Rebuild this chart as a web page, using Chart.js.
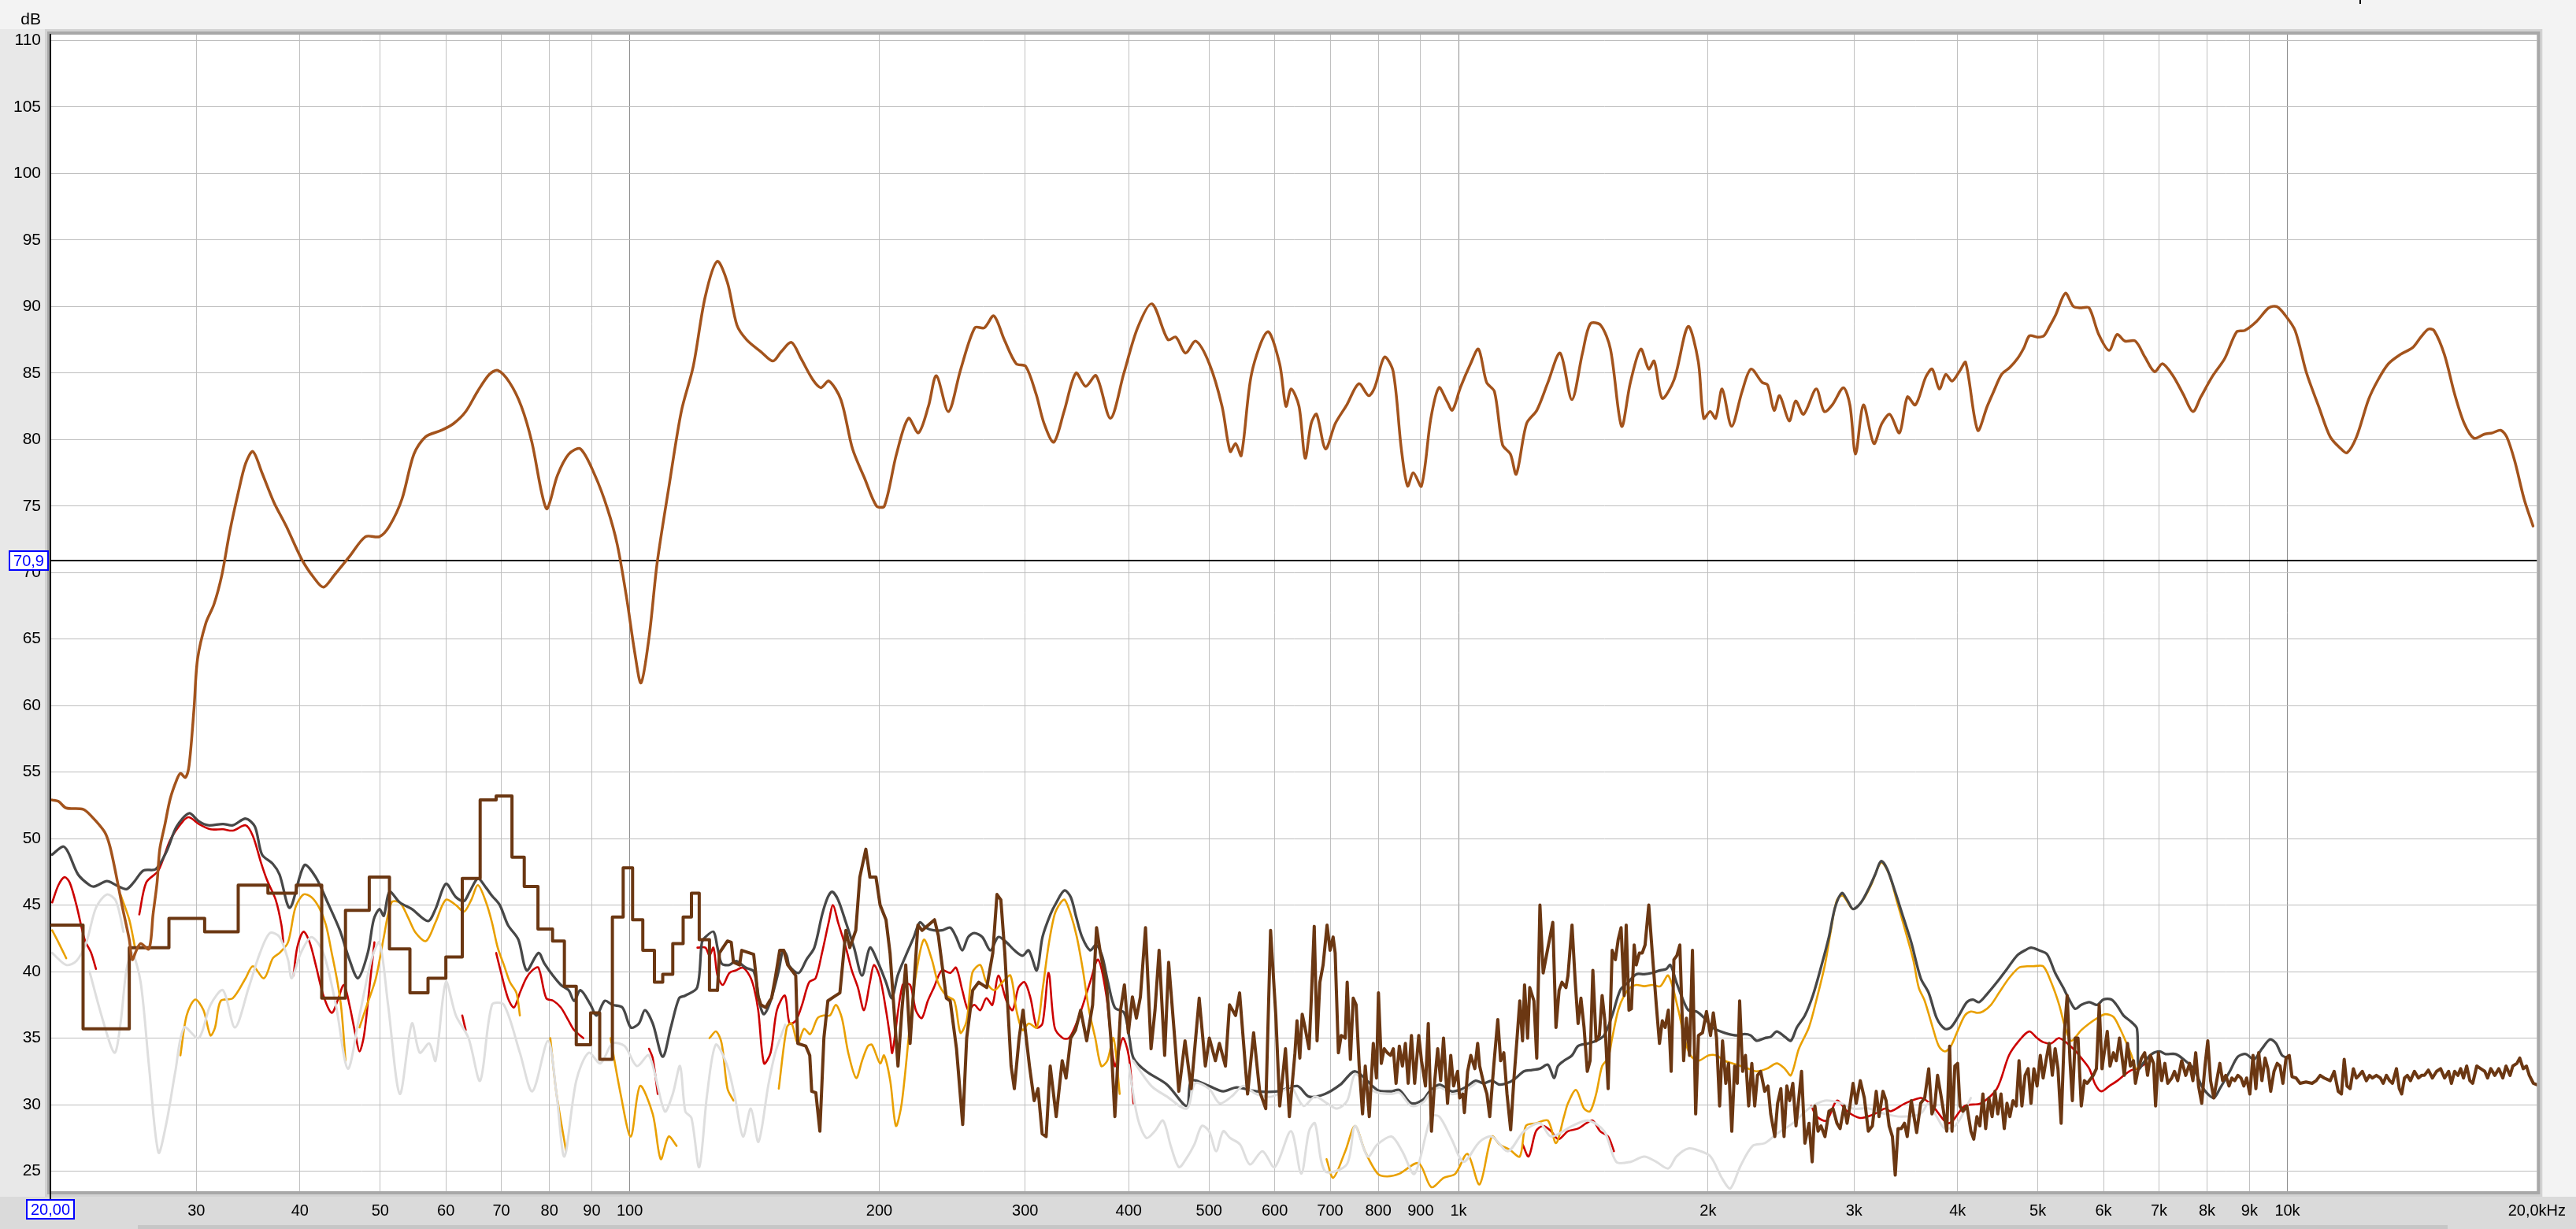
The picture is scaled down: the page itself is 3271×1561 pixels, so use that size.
<!DOCTYPE html>
<html lang="en">
<head>
<meta charset="UTF-8">
<title>Frequency response overlay</title>
<script src="https://cdnjs.cloudflare.com/ajax/libs/Chart.js/4.4.1/chart.umd.js"></script>
<style>
  html, body { margin: 0; padding: 0; background: #f3f3f3; }
  canvas { display: block; }
</style>
</head>
<body>
<canvas id="rta" width="3271" height="1561"></canvas>
<script>
// axis ticks
var xTickValues = [20, 30, 40, 50, 60, 70, 80, 90, 100, 200, 300, 400, 500, 600, 700, 800, 900,
                   1000, 2000, 3000, 4000, 5000, 6000, 7000, 8000, 9000, 10000, 20000];
var xTickLabels = ['', '30', '40', '50', '60', '70', '80', '90', '100', '200', '300', '400', '500', '600', '700', '800', '900',
                   '1k', '2k', '3k', '4k', '5k', '6k', '7k', '8k', '9k', '10k', '20,0kHz'];
var yTickValues = [25, 30, 35, 40, 45, 50, 55, 60, 65, 70, 75, 80, 85, 90, 95, 100, 105, 110];
var markerLevel = 70.9;

// [Hz, dB] - main response (top trace)
var mainTrace = [[20.1,52.9],[20.45,52.8],[20.9,52.3],[21.9,52.2],[22.4,51.7],[23.25,50.5],[23.6,49.4],[24.0,47.3],[24.4,45.0],[24.9,42.4],
  [25.1,40.9],[25.4,41.6],[25.7,42.1],[26.3,41.7],[26.6,44.3],[26.9,46.7],[27.1,49.2],[27.5,51.1],[27.9,53.0],[28.4,54.4],[28.7,54.9],
  [29.1,54.6],[29.4,55.5],[29.8,59.7],[30.1,63.5],[30.8,66.2],[31.5,67.6],[32.2,69.8],[32.9,73.0],[33.7,76.0],[34.4,78.2],[35.1,79.1],
  [36.0,77.5],[37.2,75.3],[38.5,73.5],[40.2,71.0],[41.6,69.6],[42.7,68.9],[44.0,69.8],[45.9,71.2],[48.0,72.7],[49.9,72.7],[51.3,73.5],
  [53.1,75.5],[54.9,78.9],[56.7,80.2],[59.3,80.7],[61.3,81.2],[63.4,82.1],[65.5,83.6],[67.7,84.9],[69.3,85.2],[71.6,84.3],[74.0,82.5],
  [76.2,79.8],[78.3,76.0],[79.5,74.8],[81.8,77.3],[84.4,78.9],[87.2,79.3],[90.8,77.3],[94.0,74.8],[96.6,72.1],[99.2,68.0],[101.4,64.0],
  [103.2,61.7],[105.6,65.3],[107.9,70.7],[111.6,76.6],[115.4,82.1],[119.3,85.5],[123.3,90.7],[127.5,93.4],[131.2,91.8],[134.7,88.6],
  [138.4,87.5],[144.0,86.6],[148.9,85.9],[152.3,86.6],[156.7,87.3],[160.9,86.1],[166.3,84.5],[170.1,83.9],[173.9,84.4],[179.8,83.0],
  [185.7,79.3],[192.0,77.1],[198.5,75.0],[202.9,75.0],[209.8,78.9],[216.9,81.6],[223.0,80.5],[229.3,82.5],[234.4,84.8],[242.4,82.1],
  [250.6,85.2],[260.8,88.4],[267.8,88.4],[275.0,89.3],[283.1,87.5],[292.6,85.7],[300.5,85.5],[309.3,83.4],[316.2,81.2],[324.8,79.8],
  [334.2,82.1],[345.4,85.0],[354.9,84.0],[365.3,84.8],[380.2,81.6],[394.7,85.0],[410.0,88.4],[426.6,90.2],[446.0,87.5],[456.0,87.7],
  [468.3,86.5],[481.9,87.4],[500.4,85.7],[518.4,82.5],[530.3,79.1],[538.3,79.7],[546.8,78.8],[562.9,85.0],[588.4,88.1],[608.3,85.7],
  [619.1,82.5],[628,83.8],[642,82.5],[653,78.6],[664,81.2],[674,81.9],[691,79.3],[710,81.2],[733,82.6],[758,84.2],[779,83.3],[792,83.9],
  [814,86.2],[834,85.1],[853,79.3],[868,76.5],[882,77.5],[902,76.5],[926,81.6],[947,83.9],[968,82.9],[983,82.2],[1005,83.9],[1034,85.7],
  [1057,86.8],[1081,84.3],[1105,83.6],[1130,79.6],[1155,78.9],[1174,77.4],[1208,81.2],[1243,82.2],[1282,84.3],[1326,86.5],[1370,83.0],
  [1411,86.5],[1442,88.7],[1484,88.6],[1525,86.8],[1573,81.0],[1612,84.3],[1659,86.8],[1696,85.3],[1722,85.9],[1761,83.1],[1820,84.5],
  [1892,88.5],[1946,85.9],[1976,81.6],[2012,82.1],[2043,81.6],[2080,83.8],[2135,81.0],[2198,83.6],[2253,85.3],[2324,84.3],[2360,84.1],
  [2403,82.2],[2440,83.3],[2506,81.4],[2551,82.9],[2608,81.9],[2701,83.8],[2762,82.1],[2824,82.6],[2913,83.9],[2966,82.6],[3013,78.9],
  [3080,82.6],[3170,79.7],[3241,81.2],[3314,81.9],[3404,80.5],[3480,83.2],[3558,82.6],[3662,84.7],[3728,85.3],[3803,83.8],[3871,84.9],
  [3940,84.4],[4028,85.2],[4091,85.8],[4230,80.7],[4344,82.5],[4421,83.6],[4521,84.9],[4622,85.4],[4726,86.1],[4810,86.9],[4885,87.8],
  [4995,87.7],[5084,87.8],[5164,88.5],[5256,89.4],[5398,91.0],[5519,90.0],[5643,89.9],[5765,89.9],[5921,87.9],[6094,86.7],[6230,87.9],
  [6369,87.4],[6556,87.4],[6732,86.2],[6915,85.1],[7068,85.7],[7277,84.8],[7489,83.4],[7691,82.1],[7863,83.2],[8129,84.8],[8404,86.1],
  [8686,88.1],[8884,88.2],[9185,88.9],[9496,89.9],[9708,90.0],[9925,89.4],[10217,88.2],[10547,85.0],[10908,82.5],[11264,80.2],
  [11606,79.3],[11803,79.0],[12118,80.2],[12528,83.0],[12868,84.5],[13241,85.7],[13690,86.4],[14157,86.9],[14490,87.7],[14798,88.3],
  [15029,88.2],[15467,86.4],[15918,83.4],[16349,81.2],[16793,80.1],[17284,80.4],[17672,80.5],[18088,80.7],[18394,80.2],[18804,78.4],
  [19308,75.5],[19788,73.5]];

// [Hz, dB] - noise floor, low range held in steps (value holds until next point)
var noiseSteps = [[20,43.5],[21.9,35.7],[24.9,41.8],[27.8,44.0],[30.7,43.0],[33.7,46.5],[36.6,45.9],[39.6,46.5],[42.5,38.0],[45.4,44.6],
  [48.5,47.1],[51.3,41.7],[54.3,38.4],[57.1,39.5],[60.0,41.1],[62.8,47.0],[66.0,52.9],[69.0,53.2],[72.1,48.6],[74.6,46.4],[77.5,43.2],
  [80.7,42.3],[83.4,38.9],[86.2,34.5],[89.7,36.9],[92.0,33.4],[95.3,44.1],[98.2,47.8],[100.8,43.9],[103.7,41.6],[107.1,39.2],[109.6,39.8],
  [112.7,42.1],[116.0,44.1],[118.7,45.9],[121.3,42.4],[124.8,38.6],[127.6,38.6]];

// [Hz, dB] - noise floor, rest of the range
var noiseTrace = [[127.6,38.6],[128.3,41.4],[131.2,42.3],[132.6,42.2],[133.4,40.7],[135.7,40.5],[136.5,41.6],[139.5,41.4],[141.1,41.3],
  [141.9,39.9],[142.7,38.2],[144.0,37.5],[145.9,37.3],[147.5,37.8],[148.3,38.0],[150.0,39.7],[151.7,41.6],[153.4,41.6],[155.1,40.5],
  [156.8,40.1],[158.6,39.7],[159.5,34.6],[163.1,34.4],[164.9,33.7],[165.8,31.0],[167.7,30.9],[169.6,28.0],[171.5,35.0],[173.4,37.8],
  [176.3,38.1],[179.3,38.4],[182.3,43.1],[184.3,41.8],[187.4,43.1],[189.5,47.1],[192.7,49.2],[194.9,47.1],[198.2,47.1],[200.5,45.0],
  [203.8,43.9],[206.1,41.4],[210.7,32.9],[213.0,37.1],[215.3,40.5],[217.9,34.6],[222.7,43.5],[225.3,43.1],[233.2,43.9],[235.7,42.7],
  [241.0,38.0],[243.6,37.8],[247.9,34.2],[252.2,28.5],[255.0,35.0],[259.3,38.6],[263.7,39.2],[269.6,38.8],[274.2,41.4],[277.4,45.8],
  [280.4,45.4],[283.5,41.4],[288.5,32.9],[291.1,31.2],[295.0,35.0],[298.2,37.1],[303.6,32.9],[307.6,30.3],[310.9,31.2],[314.5,27.8],
  [318.0,27.6],[321.6,32.9],[327.0,29.1],[332.5,33.3],[336.1,32.0],[340.5,35.0],[345.0,35.6],[350.0,37.1],[355.9,34.8],[361.8,37.5],
  [365.8,43.3],[369.7,41.4],[375.9,39.2],[380.6,35.0],[384.9,29.1],[391.0,37.1],[395.2,39.0],[399.6,35.4],[404.1,38.1],[408.6,36.5],
  [413.2,38.1],[419.1,43.3],[425.6,34.2],[430.3,37.1],[435.2,41.6],[442.0,33.7],[446.9,40.7],[454.5,35.0],[459.7,31.0],[467.7,34.8],
  [475.8,31.2],[486.5,38.0],[494.9,32.9],[500.4,35.0],[508.9,33.3],[514.6,34.6],[523.3,32.9],[529.2,37.5],[538.2,36.7],[544.3,38.4],
  [556.5,30.8],[565.9,35.4],[575.5,31.0],[585.3,29.7],[593.2,43.1],[601.9,36.7],[608.5,29.9],[618.3,34.2],[625.0,29.1],[634.8,33.9],
  [638.4,36.3],[643.4,33.5],[647.7,36.8],[652.8,35.8],[660.1,34.2],[663.8,37.5],[669.7,43.4],[675.0,34.8],[680.3,39.2],[686.4,40.5],
  [694.0,43.5],[699.8,41.6],[705.8,42.6],[709.8,41.4],[716.2,33.9],[721.8,35.2],[729.9,35.0],[733.9,39.2],[740.5,33.4],[746.3,38.0],
  [752.4,37.5],[758.8,32.9],[765.9,29.3],[771.7,32.9],[780.4,29.1],[789.1,34.6],[796.1,32.0],[800.5,38.4],[806.9,33.1],[813.3,34.2],
  [820.5,33.9],[827.9,33.7],[834.3,34.2],[840.6,31.6],[848.3,34.4],[855.6,32.9],[862.7,34.6],[869.4,31.6],[877.3,35.2],[885.2,31.6],
  [895.4,35.2],[902.2,33.3],[912.2,31.4],[919.4,36.1],[927.5,28.0],[936.0,31.8],[943.7,34.2],[951.5,31.8],[959.1,35.0],[969.9,30.1],
  [978.6,33.7],[986.3,31.4],[997.4,32.5],[1003.0,30.5],[1011.9,30.8],[1016.4,29.4],[1025.5,32.5],[1034.7,33.7],[1046.3,32.7],[1054.5,34.6],
  [1060.4,32.9],[1072.3,31.6],[1082.0,30.8],[1090.5,29.1],[1102.7,32.9],[1115.2,36.4],[1124.0,33.3],[1134.0,33.9],[1144.1,30.8],[1155.8,28.1],
  [1165.9,31.8],[1176.5,35.0],[1185.5,37.8],[1194.6,34.8],[1201.2,39.0],[1211.5,35.0],[1218.7,38.8],[1232.9,37.8],[1242.7,33.5],[1253.7,45.0],
  [1265.0,39.9],[1281.9,41.8],[1299.3,43.7],[1310.8,35.8],[1322.3,38.6],[1332.8,39.2],[1347.6,38.8],[1355.3,39.7],[1370.6,43.5],[1383.0,39.2],
  [1393.9,36.1],[1405.0,38.0],[1417.2,35.8],[1430.0,32.5],[1441.2,33.3],[1452.3,40.1],[1465.5,34.8],[1478.7,35.2],[1490.2,38.2],[1501.5,36.3],
  [1515.2,31.2],[1532.3,41.6],[1546.0,40.9],[1558.2,42.4],[1570.8,43.3],[1584.4,38.2],[1593.2,43.5],[1605.6,37.1],[1616.4,37.2],[1628.9,42.0],
  [1638.3,40.5],[1652.6,41.4],[1665.9,41.4],[1679.0,42.0],[1696.3,45.0],[1713.0,41.4],[1732.2,37.5],[1747.6,34.6],[1761.3,36.3],[1775.3,35.8],
  [1791.1,37.1],[1805.2,32.5],[1819.0,40.9],[1834.1,41.2],[1849.2,42.0],[1868.8,33.3],[1883.3,36.5],[1899.9,33.7],[1915.2,41.6],[1932.4,29.3],
  [1947.5,35.2],[1969.4,35.4],[1991.4,37.0],[2013.8,35.2],[2029.5,36.9],[2047.7,35.0],[2065.4,29.9],[2082.2,34.8],[2101.0,31.6],[2117.2,33.1],
  [2136.4,28.0],[2153.3,32.9],[2169.4,31.6],[2183.5,37.8],[2201.6,32.5],[2219.0,33.7],[2238.9,29.9],[2258.7,33.1],[2276.8,29.9],[2294.5,32.2],
  [2314.8,32.5],[2341.0,31.0],[2362.5,31.4],[2380.3,29.3],[2407.5,27.6],[2426.3,30.1],[2448.2,31.2],[2470.2,27.6],[2489.3,31.4],[2508.9,30.3],
  [2531.1,31.6],[2553.5,28.4],[2574.0,30.5],[2593.3,32.5],[2617.4,27.1],[2647.5,28.6],[2671.0,25.7],[2691.3,29.9],[2714.8,28.0],[2736.9,28.4],
  [2767.4,27.6],[2798.4,29.5],[2829.9,29.7],[2861.2,28.6],[2886.4,28.2],[2919.0,29.9],[2942.8,28.6],[2966.0,29.9],[2992.3,31.6],[3018.6,30.1],
  [3053.1,31.8],[3087.4,30.5],[3121.9,28.0],[3157.3,28.4],[3191.2,31.0],[3216.0,29.1],[3251.7,31.0],[3279.4,30.3],[3307.7,28.4],[3337.9,27.6],
  [3364.2,24.7],[3390.5,28.2],[3420.7,28.2],[3451.4,28.6],[3478.1,27.6],[3517.5,30.3],[3570.5,27.9],[3610.8,30.1],[3651.1,30.5],[3692.0,32.7],
  [3725.3,29.3],[3754.1,29.9],[3783.8,32.2],[3817.4,30.8],[3882.0,28.0],[3913.0,34.4],[3939.0,28.0],[3969.9,32.9],[4000.9,33.1],[4027.0,29.9],
  [4059.5,29.5],[4105.0,29.9],[4151.0,28.0],[4184.0,27.4],[4221.0,29.1],[4256.0,28.4],[4292.0,30.8],[4325.0,28.2],[4364.0,30.5],[4403.0,29.1],
  [4438.0,31.0],[4473.0,29.3],[4513.0,30.8],[4554.0,28.2],[4589.0,30.1],[4626.0,29.1],[4666.0,30.3],[4708.0,29.9],[4745.0,33.3],[4783.0,29.9],
  [4825.0,32.2],[4867.0,32.7],[4906.0,30.1],[4945.0,32.7],[4989.0,31.4],[5034.0,33.7],[5074.0,32.0],[5114.0,33.3],[5159.0,34.6],[5205.0,32.2],
  [5246.0,34.2],[5287.0,32.7],[5334.0,28.6],[5382.0,35.4],[5424.0,38.2],[5467.0,33.3],[5503.0,30.3],[5547.0,35.0],[5590.0,35.0],[5641.0,29.9],
  [5690.0,31.8],[5735.0,31.6],[5832.0,32.2],[5883.0,32.7],[5929.0,37.5],[5975.0,32.7],[6063.0,35.5],[6110.0,32.9],[6167.6,33.9],[6217.0,33.3],
  [6272.0,35.0],[6307.0,33.9],[6357.0,32.2],[6414.0,34.6],[6465.0,32.9],[6521.0,33.3],[6557.0,31.6],[6609.0,32.7],[6668.0,33.5],[6728.0,33.9],
  [6781.0,32.2],[6835.0,33.7],[6895.0,33.1],[6934.0,29.9],[6989.0,33.9],[7052.0,31.8],[7115.0,33.1],[7172.0,31.6],[7252.0,32.0],[7308.0,32.5],
  [7374.0,31.8],[7456.0,33.3],[7540.0,32.2],[7623.0,33.1],[7692.0,31.8],[7752.0,33.9],[7813.0,31.4],[7883.0,30.1],[7954.0,32.9],[8016.0,34.8],
  [8079.0,31.8],[8151.0,30.5],[8218.0,31.8],[8289.0,33.1],[8354.0,31.8],[8428.0,32.2],[8504.0,31.4],[8570.0,32.0],[8638.0,31.8],[8715.0,32.2],
  [8792.0,32.0],[8861.0,31.4],[8930.0,32.0],[9010.0,30.8],[9090.0,33.7],[9162.0,31.2],[9234.0,33.9],[9317.0,31.8],[9400.0,33.5],[9473.0,32.7],
  [9547.0,31.0],[9635.5,32.5],[9721.0,33.1],[9799.0,32.9],[9876.0,31.6],[9963.0,33.5],[10052.0,33.7],[10130.0,32.1],[10245.0,32.0],[10359.0,31.6],
  [10531.0,31.7],[10711.0,31.6],[10832.0,31.8],[10954.0,32.2],[11077.0,32.0],[11263.0,31.8],[11389.0,32.5],[11517.0,31.0],[11620.0,30.8],
  [11710.0,33.4],[11802.0,31.4],[11905.0,31.2],[12013.0,32.7],[12111.0,32.0],[12206.0,32.2],[12315.0,32.5],[12453.0,31.8],[12565.0,32.2],
  [12663.0,32.0],[12805.0,32.2],[12949.0,32.0],[13051.0,31.6],[13168.0,32.2],[13286.0,31.8],[13390.0,31.6],[13539.0,32.7],[13647.0,31.2],
  [13738.0,30.8],[13845.0,32.0],[13954.0,32.2],[14077.0,31.8],[14233.0,32.5],[14392.0,32.0],[14520.0,32.2],[14632.0,32.2],[14795.0,32.6],
  [14962.0,32.0],[15137.0,32.5],[15306.0,32.7],[15477.0,32.0],[15651.0,32.5],[15774.0,31.6],[15915.0,32.5],[16058.0,32.2],[16184.0,32.7],
  [16311.0,32.0],[16456.0,32.9],[16603.0,31.8],[16734.0,31.6],[16923.0,32.9],[17113.0,32.7],[17305.0,32.5],[17440.0,32.0],[17596.0,32.7],
  [17794.0,32.2],[17993.0,32.7],[18194.0,32.0],[18357.0,32.9],[18564.0,32.2],[18708.0,32.9],[18921.0,33.1],[19071.0,33.5],[19256.0,32.7],
  [19428.0,32.9],[19585.0,32.2],[19807.0,31.6],[19987.0,31.5]];

// [Hz, dB] - dark grey trace
var greyTrace = [[20.1,48.8],[20.7,49.4],[21.0,49.0],[21.6,47.3],[22.3,46.5],[22.6,46.4],[23.4,46.8],[24.0,46.5],[24.7,46.2],[25.2,46.7],
  [25.9,47.6],[26.8,47.7],[27.6,49.0],[28.4,50.9],[29.4,51.9],[30.2,51.3],[31.0,51.0],[32.3,51.1],[33.2,51.0],[34.4,51.5],[35.3,50.9],
  [36.0,48.8],[37.1,48.1],[37.8,47.3],[38.9,44.8],[40.5,48.0],[41.8,47.1],[43.2,45.2],[44.7,43.1],[45.9,40.9],[47.0,39.5],[48.3,41.4],
  [49.1,43.9],[49.9,44.7],[50.5,44.2],[51.3,46.0],[52.8,45.2],[54.6,44.7],[57.1,43.8],[58.3,44.7],[60.0,46.6],[61.7,45.6],[63.1,45.3],
  [64.1,46.0],[65.6,47.0],[67.1,46.3],[68.2,45.7],[69.7,45.0],[71.3,43.5],[73.4,42.4],[75.1,40.1],[77.6,41.4],[78.9,40.6],[80.8,39.7],
  [82.6,39.0],[84.4,38.6],[85.7,37.8],[87.2,38.6],[89.7,37.5],[91.2,36.7],[93.3,37.8],[95.3,37.5],[98.0,37.3],[100.3,35.8],[102.6,36.1],
  [104.3,37.1],[106.6,36.1],[109.6,33.6],[112.1,35.8],[114.7,38.0],[116.7,38.2],[120.6,38.8],[122.2,42.2],[123.4,42.6],[126.2,43.0],
  [127.6,41.8],[129.1,40.6],[131.9,40.5],[134.4,40.8],[138.0,40.3],[141.2,40.0],[143.6,37.5],[145.2,36.8],[147.9,37.8],[151.3,40.1],
  [153.1,41.6],[154.7,41.2],[155.9,40.4],[159.9,39.9],[163.4,40.9],[167.0,41.8],[170.7,44.3],[173.4,45.6],[175.5,46.0],[178.4,45.4],
  [182.3,43.7],[186.5,41.8],[190.7,39.7],[194.9,41.8],[199.3,40.7],[203.8,39.2],[207.2,38.0],[210.5,39.7],[215.3,41.2],[220.2,42.6],
  [223.9,43.7],[227.7,43.3],[232.8,43.1],[238.0,43.1],[243.6,43.3],[247.6,42.6],[251.9,41.6],[256.1,42.6],[260.4,42.9],[266.3,42.6],
  [272.4,41.6],[278.4,42.6],[284.8,42.2],[291.2,41.6],[297.8,41.2],[303.0,41.6],[309.8,40.1],[314.8,42.6],[321.8,44.3],[327.2,45.2],
  [334.5,46.1],[340.5,45.6],[345.7,44.1],[351.4,42.6],[359.3,41.6],[365.3,42.0],[371.4,41.2],[377.6,39.2],[384.8,37.3],[395.0,36.9],
  [400.8,35.0],[405.3,33.5],[420,32.5],[445,31.5],[470,29.9],[476,31.8],[500,31.4],[520,31.0],[540,31.3],[570,31.0],[605,31.0],[639,31.4],
  [660,30.6],[690,30.8],[720,31.5],[750.5,32.5],[798,31.1],[829.7,31.0],[848.3,31.1],[877.3,30.1],[907.1,30.4],[922.5,31.0],[948.5,31.5],
  [980.8,31.0],[1003,31.1],[1025.5,31.4],[1048.7,31.8],[1072.3,31.6],[1096.6,31.8],[1121.4,31.5],[1153.1,31.7],[1172.5,32.0],[1198.9,32.5],
  [1226,32.6],[1253.7,32.7],[1281.9,33.0],[1303.7,32.0],[1318.2,32.9],[1340.4,33.3],[1370.6,33.7],[1393.8,34.4],[1433.1,34.6],[1465.5,34.8],
  [1498.5,35.2],[1532.3,36.7],[1567,38.6],[1602.2,39.2],[1638.3,39.8],[1675.3,39.8],[1713,39.9],[1751.7,40.1],[1781.2,40.2],[1801.2,40.5],
  [1831.5,39.2],[1862.4,38.0],[1893.7,37.1],[1936.4,37.0],[1980.1,36.5],[2024.7,35.8],[2070.3,35.5],[2117,35.3],[2165,35.2],[2213.8,35.3],
  [2251.3,35.2],[2289.2,34.8],[2340.8,35.0],[2380.3,35.1],[2420.8,35.5],[2475.4,35.1],[2517.3,34.8],[2559.7,35.8],[2617.4,36.7],[2676,38.2],
  [2736.5,40.3],[2798,42.6],[2845.7,44.8],[2900.3,45.9],[2942.8,45.4],[2992,44.7],[3059.6,45.2],[3128.4,46.3],[3181.7,47.3],[3234.7,48.3],
  [3290.3,47.7],[3363.7,46.0],[3439.7,44.1],[3517.3,42.2],[3611,39.5],[3692,38.4],[3775,36.5],[3860,35.7],[3926,35.8],[4015,36.7],
  [4105,37.7],[4174,37.9],[4245,37.7],[4340,38.3],[4462,39.2],[4589,40.2],[4718,41.2],[4825,41.6],[4906,41.8],[5017,41.6],[5130,41.3],
  [5246,39.9],[5364,38.8],[5455,37.9],[5547,37.2],[5641,37.5],[5768,37.7],[5898,37.5],[5997,37.9],[6133,37.9],[6237,37.4],[6343,36.7],
  [6486,36.2],[6585,35.7],[6615,32.7],[6716,33.2],[6858,33.8],[7012,34.0],[7129,33.8],[7332,33.8],[7496,33.4],[7709,32.7],[7883,31.4],
  [8016,30.8],[8151,30.5],[8289,31.2],[8522,32.5],[8715,33.6],[8911,33.8],[9112,33.4],[9317,34.2],[9527,34.9],[9690,34.6],[9854,33.7],
  [10020,33.5]];

// [Hz, dB] - red trace (null = gap)
var redTrace = [[20.1,45.2],[20.45,46.5],[20.8,47.1],[21.1,46.7],[21.5,45.0],[22.0,42.4],[22.4,41.4],[22.7,40.2],[23.0,null],
  [25.6,44.3],[26.1,46.7],[27.0,47.6],[27.9,49.9],[28.9,51.3],[29.4,51.6],[30.2,51.1],[31.2,50.7],[32.3,50.7],[33.2,50.6],[34.4,51.0],
  [35.1,50.2],[35.9,48.2],[36.5,46.9],[37.4,45.4],[38.0,43.5],[38.2,42.2],[38.5,null],
  [39.3,39.7],[39.7,41.8],[40.4,43.0],[41.1,42.2],[41.8,40.5],[42.7,38.2],[43.7,36.9],[44.4,37.8],[45.2,39.0],[45.9,37.5],[46.7,35.2],
  [47.2,34.0],[47.8,35.2],[48.6,39.2],[49.2,42.2],[49.5,null],
  [62.8,36.7],[63.4,35.6],[63.6,null],
  [69.0,41.4],[69.7,40.3],[71.3,38.0],[72.5,37.3],[73.7,38.4],[75.0,39.5],[76.3,40.1],[77.6,40.3],[79.3,38.0],[80.9,37.8],[82.6,37.3],
  [84.4,36.3],[85.7,35.6],[87.9,35.0],[88.2,null],
  [105.5,34.2],[106.6,33.5],[108.1,30.8],[108.3,null],
  [120.7,41.8],[123.4,41.8],[124.8,41.2],[126.2,41.8],[127.6,39.7],[129.5,39.0],[131.9,39.9],[134.4,40.1],[136.9,40.3],[139.5,39.7],
  [141.2,38.8],[142.9,37.1],[145.2,33.1],[147.9,33.9],[150.5,37.1],[153.9,38.2],[155.9,36.1],[158.6,36.3],[161.4,37.5],[164.6,39.2],
  [167.6,39.5],[170.6,41.4],[173.8,43.7],[175.9,45.0],[178.4,43.7],[182.3,41.8],[185.3,40.1],[188.5,38.8],[191.7,37.1],[194.9,39.2],
  [197.1,40.5],[200.5,39.5],[203.8,37.1],[206.2,35.0],[207.4,33.9],[213.4,39.0],[217.9,39.0],[221.4,37.1],[225.1,36.5],[228.9,37.8],
  [232.8,38.8],[238.0,40.1],[243.6,39.9],[247.6,40.3],[251.9,38.6],[256.1,37.1],[260.4,37.5],[264.8,37.1],[269.3,38.0],[273.9,37.5],
  [278.4,39.7],[284.8,37.8],[289.7,37.1],[294.5,38.8],[299.5,39.2],[304.5,38.0],[309.8,35.8],[314.8,36.1],[320.2,39.9],[325.6,35.8],
  [333.0,35.0],[338.7,35.0],[344.3,35.8],[351.4,37.3],[359.3,39.2],[367.4,40.9],[375.9,38.2],[384.8,32.9],[393.4,35.0],[399.9,33.7],
  [405.3,30.1],[406,null],
  [1195,27.0],[1215,26.1],[1240,28.0],[1265,28.4],[1293,28.0],[1320,27.4],[1355,28.0],[1394,28.2],[1426,28.6],[1452,28.8],[1482,28.0],
  [1515,27.6],[1540,26.5],[1545,null],
  [2665,29.9],[2706,29.1],[2780,28.8],[2861,30.3],[2943,29.5],[3050,29.0],[3150,29.2],[3270,29.7],[3322,29.5],[3459,30.1],[3608,30.5],
  [3651,30.4],[3733,29.9],[3903,28.6],[4082,29.9],[4268,30.1],[4462,31.2],[4614,33.7],[4745,34.8],[4879,35.5],[4989,35.0],[5074,34.7],
  [5188,34.6],[5305,35.0],[5516,34.2],[5641,33.5],[5768,32.7],[5866,31.5],[5963,31.0],[6098,31.4],[6237,31.8],[6378,32.3],[6486,32.6],
  [6595,32.7],[6744,33.1]];

// [Hz, dB] - orange trace (null = gap)
var orangeTrace = [[20.1,43.1],[20.45,42.2],[20.9,41.0],[21.0,null],
  [24.3,45.8],[24.9,43.9],[25.3,41.8],[25.4,null],
  [28.7,33.7],[29.2,36.7],[29.9,37.9],[30.6,37.1],[31.2,35.2],[31.6,35.8],[32.1,37.8],[33.2,38.0],[34.4,39.5],[35.1,40.4],[36.2,39.5],
  [37.1,41.0],[37.8,41.4],[38.7,42.2],[39.5,44.8],[40.4,45.8],[41.3,45.6],[42.2,44.8],[43.0,43.5],[43.7,41.4],[44.4,39.2],[44.9,37.1],
  [45.4,33.3],[45.6,null],
  [47.2,35.8],[48.2,37.5],[49.4,39.5],[50.5,42.6],[51.6,45.2],[52.8,45.2],[54.0,44.1],[55.2,42.9],[56.8,42.3],[58.3,43.7],[60.0,45.4],
  [61.7,45.0],[63.1,44.5],[64.4,45.4],[65.6,46.5],[67.1,45.2],[68.2,43.7],[69.3,41.8],[70.5,40.5],[71.7,39.2],[73.0,38.4],[73.7,36.7],
  [74.0,null],
  [80.2,35.0],[81.6,30.8],[83.8,26.5],[84.0,null],
  [94.8,35.0],[97.5,30.8],[100.3,27.6],[102.9,31.4],[106.6,29.3],[109.0,25.9],[111.4,27.6],[113.9,26.9],[114.0,null],
  [124.8,35.0],[127.1,35.5],[129.1,34.6],[131.2,31.2],[133.4,30.3],[134.0,null],
  [151.3,31.2],[154.7,35.8],[156.8,36.1],[159.5,34.6],[162.3,35.7],[165.1,35.3],[168.5,36.5],[171.4,36.7],[174.4,36.7],[177.3,37.5],
  [180.3,36.5],[183.5,33.9],[187.6,32.0],[190.7,33.3],[193.8,34.4],[196.0,34.5],[200.5,33.1],[202.7,33.7],[206.2,31.8],[209.5,28.4],
  [212.9,30.1],[217.9,36.1],[221.4,39.7],[226.4,42.4],[231.5,40.9],[235.4,39.2],[240.8,38.2],[246.4,37.8],[250.6,35.4],[255.0,36.3],
  [259.0,39.9],[264.8,40.5],[269.3,39.2],[275.4,38.6],[281.6,39.2],[288.0,39.7],[292.8,37.1],[297.8,35.6],[303.0,36.1],[309.8,35.8],
  [314.8,38.6],[320.2,42.0],[325.6,44.3],[331.2,45.2],[334.9,45.4],[340.5,44.3],[346.3,42.6],[352.2,40.1],[358.2,37.1],[364.5,35.0],
  [370.6,32.9],[376.9,33.3],[383.4,35.0],[390.1,30.8],[392.0,null],
  [693,25.9],[706,24.5],[730,26.5],[750,28.4],[771,26.5],[799,24.8],[820,24.6],[848,24.8],[895,25.6],[927,23.8],[960,24.5],[991,24.8],
  [1025,26.3],[1060,24.0],[1096.6,27.6],[1121.4,27.0],[1153.1,26.6],[1185.5,26.1],[1205.6,28.4],[1239.8,28.6],[1281.9,28.8],[1310.8,27.1],
  [1340.4,29.1],[1355.3,30.1],[1386.0,31.1],[1417.2,29.7],[1441.2,29.5],[1465.5,30.8],[1490.2,32.9],[1515.2,33.5],[1532.3,35.0],[1558.2,37.1],
  [1584.4,38.2],[1611.2,38.8],[1638.3,39.0],[1675.3,38.9],[1713.0,39.0],[1751.7,38.9],[1791.1,39.7],[1841.8,37.1],[1872.8,35.0],[1904.5,33.7],
  [1947.4,33.3],[2002.3,33.7],[2047.5,33.7],[2093.7,33.3],[2141.0,33.1],[2189.4,32.9],[2238.6,32.7],[2289.2,32.5],[2354.5,32.7],[2420.8,33.1],
  [2475.4,32.7],[2517.3,32.2],[2574.0,34.2],[2646.6,35.8],[2706.0,38.0],[2767.0,40.5],[2813.8,43.1],[2861.2,45.4],[2909.4,45.7],[2992.0,44.7],
  [3076.7,45.4],[3146.0,46.5],[3234.7,48.2],[3307.6,47.3],[3382.5,45.2],[3458.7,43.1],[3536.7,40.9],[3591,38.8],[3651,37.8],[3733,35.8],
  [3797,34.4],[3860,34.0],[3926,34.4],[3992,35.4],[4082,36.7],[4151,37.0],[4221,36.9],[4292,37.0],[4389,37.5],[4488,38.4],[4614,39.5],
  [4745,40.3],[4853,40.4],[4934,40.4],[5074,40.4],[5188,39.2],[5305,37.5],[5394,35.8],[5485,34.8],[5641,35.6],[5768,36.1],[5898,36.5],
  [6031,36.8],[6167,36.6],[6272,35.8],[6378,34.8],[6486,33.7],[6559,32.7]];

// [Hz, dB] - light grey traces (null = gap)
var lightTraceA = [[20.1,41.4],[20.9,40.5],[21.5,40.8],[22.1,42.2],[22.7,44.8],[23.4,45.8],[24.0,45.3],[24.5,43.0],[24.6,null],
  [405,33.3],[426,31.4],[445,30.6],[470,29.7],[481,31.6],[500,31.2],[515,30.1],[532,30.6],[550,31.4],[570,30.8],[595,30.6],[620,31.2],
  [628,31.4],[650,29.9],[671,30.6],[694,30.1],[714,29.7],[734,30.3],[750.5,32.3],[778,31.3],[798,30.9],[829.7,30.8],[848.3,30.9],
  [877.3,29.9],[907.1,30.2],[922.5,30.8],[948.5,31.3],[980.8,30.8],[1003,30.9],[1025.5,31.2],[1048.7,31.6]];

var lightTraceB = [[22.3,40.0],[23.1,36.5],[23.9,33.9],[24.3,36.1],[24.7,40.1],[25.1,41.4],[25.7,39.2],[26.3,32.9],[27.0,26.4],[27.6,28.6],
  [28.3,32.5],[29.0,35.8],[30.2,35.0],[31.2,37.5],[32.3,38.6],[33.4,35.8],[34.7,38.8],[35.8,41.4],[36.8,42.9],[37.8,42.6],[38.7,40.9],
  [39.1,39.5],[40.1,41.4],[41.3,42.6],[42.7,41.4],[44.2,37.5],[45.7,32.7],[47.2,36.7],[48.8,40.9],[49.9,42.2],[51.1,37.5],[52.8,30.8],
  [54.6,36.1],[55.8,33.9],[57.3,34.6],[58.3,33.3],[60.0,39.2],[61.7,36.7],[63.9,35.0],[66.0,31.8],[68.2,37.5],[70.5,37.5],[73.7,33.9],
  [76.3,31.0],[79.7,34.8],[81.6,30.8],[83.4,26.1],[86.2,31.8],[89.2,33.9],[92.2,33.1],[95.3,34.6],[98.6,34.4],[102.0,32.9],[105.5,33.7],
  [110.2,29.5],[112.7,30.8],[115.0,32.9],[116.7,29.5],[118.7,29.0],[121.3,25.3],[124.0,30.8],[127.0,34.5],[131.0,33.0],[134.0,30.5],
  [137.0,27.6],[140.0,29.7],[143.0,27.2],[147.0,31.5],[150.0,34.0],[154.0,36.0],[155.0,null],
  [400,33.0],[410,29.0],[420,27.5],[430,28.0],[440,28.8],[450,26.8],[460,25.3],[470,26.0],[480,27.0],[490,28.4],[500,28.0],[510,26.5],
  [520,28.0],[530,27.5],[545,27.0],[560,25.5],[580,26.5],[600,25.3],[627.8,28.0],[646,24.8],[660,28.0],[671,28.6],[690,25.0],[733,25.5],
  [750,28.4],[777,26.1],[798,27.0],[830,27.6],[855,26.5],[885,24.8],[927,29.1],[948,29.1],[981,27.4],[1014,25.7],[1060,27.2],[1097,27.6],
  [1147,26.5],[1199,28.0],[1254,28.6],[1293,27.6],[1371,28.4],[1433,28.8],[1499,28.0],[1550,25.7],[1613,25.7],[1675,26.1],[1732,25.7],
  [1791,25.2],[1832,26.1],[1894,26.7],[1958,26.5],[2014,26.1],[2082,24.4],[2128,23.7],[2189,25.4],[2264,26.9],[2341,27.1],[2421,27.8],
  [2531,28.6],[2647,29.7],[2767,30.3],[2895,30.1],[2992,29.7],[3128,29.7],[3270,29.3],[3421,29.1],[3608,29.3],[3692,30.1],[3775,29.1],
  [3860,28.2],[3970,28.4],[4060,29.3],[4150,30.5]];

function pts(list) {
  return list.map(function (p) { return { x: p[0], y: p[1] }; });
}

function trace(label, list, color, width, order, extra) {
  var ds = {
    label: label,
    data: pts(list),
    borderColor: color,
    borderWidth: width,
    pointRadius: 0,
    tension: 0.3,
    spanGaps: false,
    borderJoinStyle: 'round',
    borderCapStyle: 'round',
    order: order
  };
  return Object.assign(ds, extra || {});
}

// frame, bevel and the blue value boxes
var decor = {
  id: 'decor',
  beforeDraw: function (chart) {
    var ctx = chart.ctx, a = chart.chartArea;
    ctx.save();
    ctx.fillStyle = '#f3f3f3';
    ctx.fillRect(0, 0, chart.width, chart.height);
    ctx.fillStyle = '#e8e8e8';
    ctx.fillRect(0, a.top - 7, a.left - 7, a.bottom - a.top + 14);
    ctx.fillStyle = '#dadada';
    ctx.fillRect(0, a.bottom + 7, chart.width, chart.height - a.bottom - 7);
    ctx.fillStyle = '#c6c6c6';
    ctx.fillRect(175, chart.height - 5, 2933, 5);
    ctx.fillStyle = '#d2d2d2';
    ctx.fillRect(a.left - 7, a.top - 7, a.right - a.left + 14, a.bottom - a.top + 14);
    ctx.fillStyle = '#a8a8a8';
    ctx.fillRect(a.left - 4, a.top - 4, a.right - a.left + 8, a.bottom - a.top + 8);
    ctx.fillStyle = '#ffffff';
    ctx.fillRect(a.left, a.top, a.right - a.left, a.bottom - a.top);
    // small cursor mark at the top edge
    ctx.fillStyle = '#000';
    ctx.fillRect(2996, 0, 2, 5);
    ctx.restore();
  },
  afterDraw: function (chart) {
    var ctx = chart.ctx, a = chart.chartArea;
    var y = chart.scales.y, x = chart.scales.x;
    ctx.save();
    ctx.font = '21px "Liberation Sans", Arial, sans-serif';
    ctx.fillStyle = '#000';
    ctx.textAlign = 'right';
    ctx.textBaseline = 'middle';
    ctx.fillText('dB', a.left - 12, 25);
    // axis foot at the left edge
    ctx.fillRect(a.left - 1, a.bottom, 2, 10);
    // marker value box
    var my = y.getPixelForValue(markerLevel);
    box(ctx, 11, my - 13, 51, 26, '70,9');
    // start frequency box
    var sx = x.getPixelForValue(20);
    box(ctx, sx - 31, a.bottom + 10, 62, 26, '20,00');
    ctx.restore();
  }
};

function box(ctx, left, top, w, h, text) {
  ctx.fillStyle = '#ffffff';
  ctx.fillRect(left, top, w, h);
  ctx.strokeStyle = '#0000ff';
  ctx.lineWidth = 2;
  ctx.strokeRect(left + 1, top + 1, w - 2, h - 2);
  ctx.fillStyle = '#0000ff';
  ctx.font = '20px "Liberation Sans", Arial, sans-serif';
  ctx.textAlign = 'center';
  ctx.textBaseline = 'middle';
  ctx.fillText(text, left + w / 2, top + h / 2 + 1);
}

Chart.defaults.font.family = '"Liberation Sans", Arial, sans-serif';
Chart.defaults.color = '#000';

new Chart(document.getElementById('rta'), {
  type: 'line',
  data: {
    datasets: [
      trace('marker', [[20, markerLevel], [20000, markerLevel]], '#000000', 2, 2, { tension: 0 }),
      trace('main', mainTrace, '#a3531c', 3.5, 1),
      trace('noise low', noiseSteps, '#6b3712', 4, 3, { stepped: true, tension: 0 }),
      trace('noise', noiseTrace, '#6b3712', 4, 3, { tension: 0 }),
      trace('light a', lightTraceA, '#dedede', 3, 4),
      trace('light b', lightTraceB, '#dedede', 3, 4),
      trace('grey', greyTrace, '#474747', 3.3, 5),
      trace('orange', orangeTrace, '#e9a000', 2.6, 6),
      trace('red', redTrace, '#cc0000', 2.6, 7)
    ]
  },
  options: {
    responsive: false,
    animation: false,
    devicePixelRatio: 1,
    events: [],
    layout: { padding: { left: 0, top: 44, right: 48, bottom: 0 } },
    plugins: { legend: { display: false }, tooltip: { enabled: false } },
    scales: {
      x: {
        type: 'logarithmic',
        min: 20,
        max: 20000,
        afterBuildTicks: function (s) { s.ticks = xTickValues.map(function (v) { return { value: v }; }); },
        afterFit: function (s) { s.height = 48; },
        ticks: {
          autoSkip: false,
          maxRotation: 0,
          minRotation: 0,
          padding: 13,
          font: { size: 20 },
          color: '#000',
          callback: function (v, i) { return xTickLabels[i]; }
        },
        grid: {
          drawTicks: false,
          lineWidth: 1,
          color: function (c) {
            var v = c.tick && c.tick.value;
            return (v === 100 || v === 1000 || v === 10000) ? '#8e8e8e' : '#c0c0c0';
          }
        },
        border: { display: false }
      },
      y: {
        type: 'linear',
        min: 23.49,
        max: 110.44,
        afterBuildTicks: function (s) { s.ticks = yTickValues.map(function (v) { return { value: v }; }); },
        afterFit: function (s) { s.width = 64; },
        ticks: {
          padding: 12,
          font: { size: 21 },
          color: '#000',
          callback: function (v) { return String(v); }
        },
        grid: { drawTicks: false, lineWidth: 1, color: '#bdbdbd' },
        border: { display: true, color: '#000000', width: 2 }
      }
    }
  },
  plugins: [decor]
});
</script>
</body>
</html>
